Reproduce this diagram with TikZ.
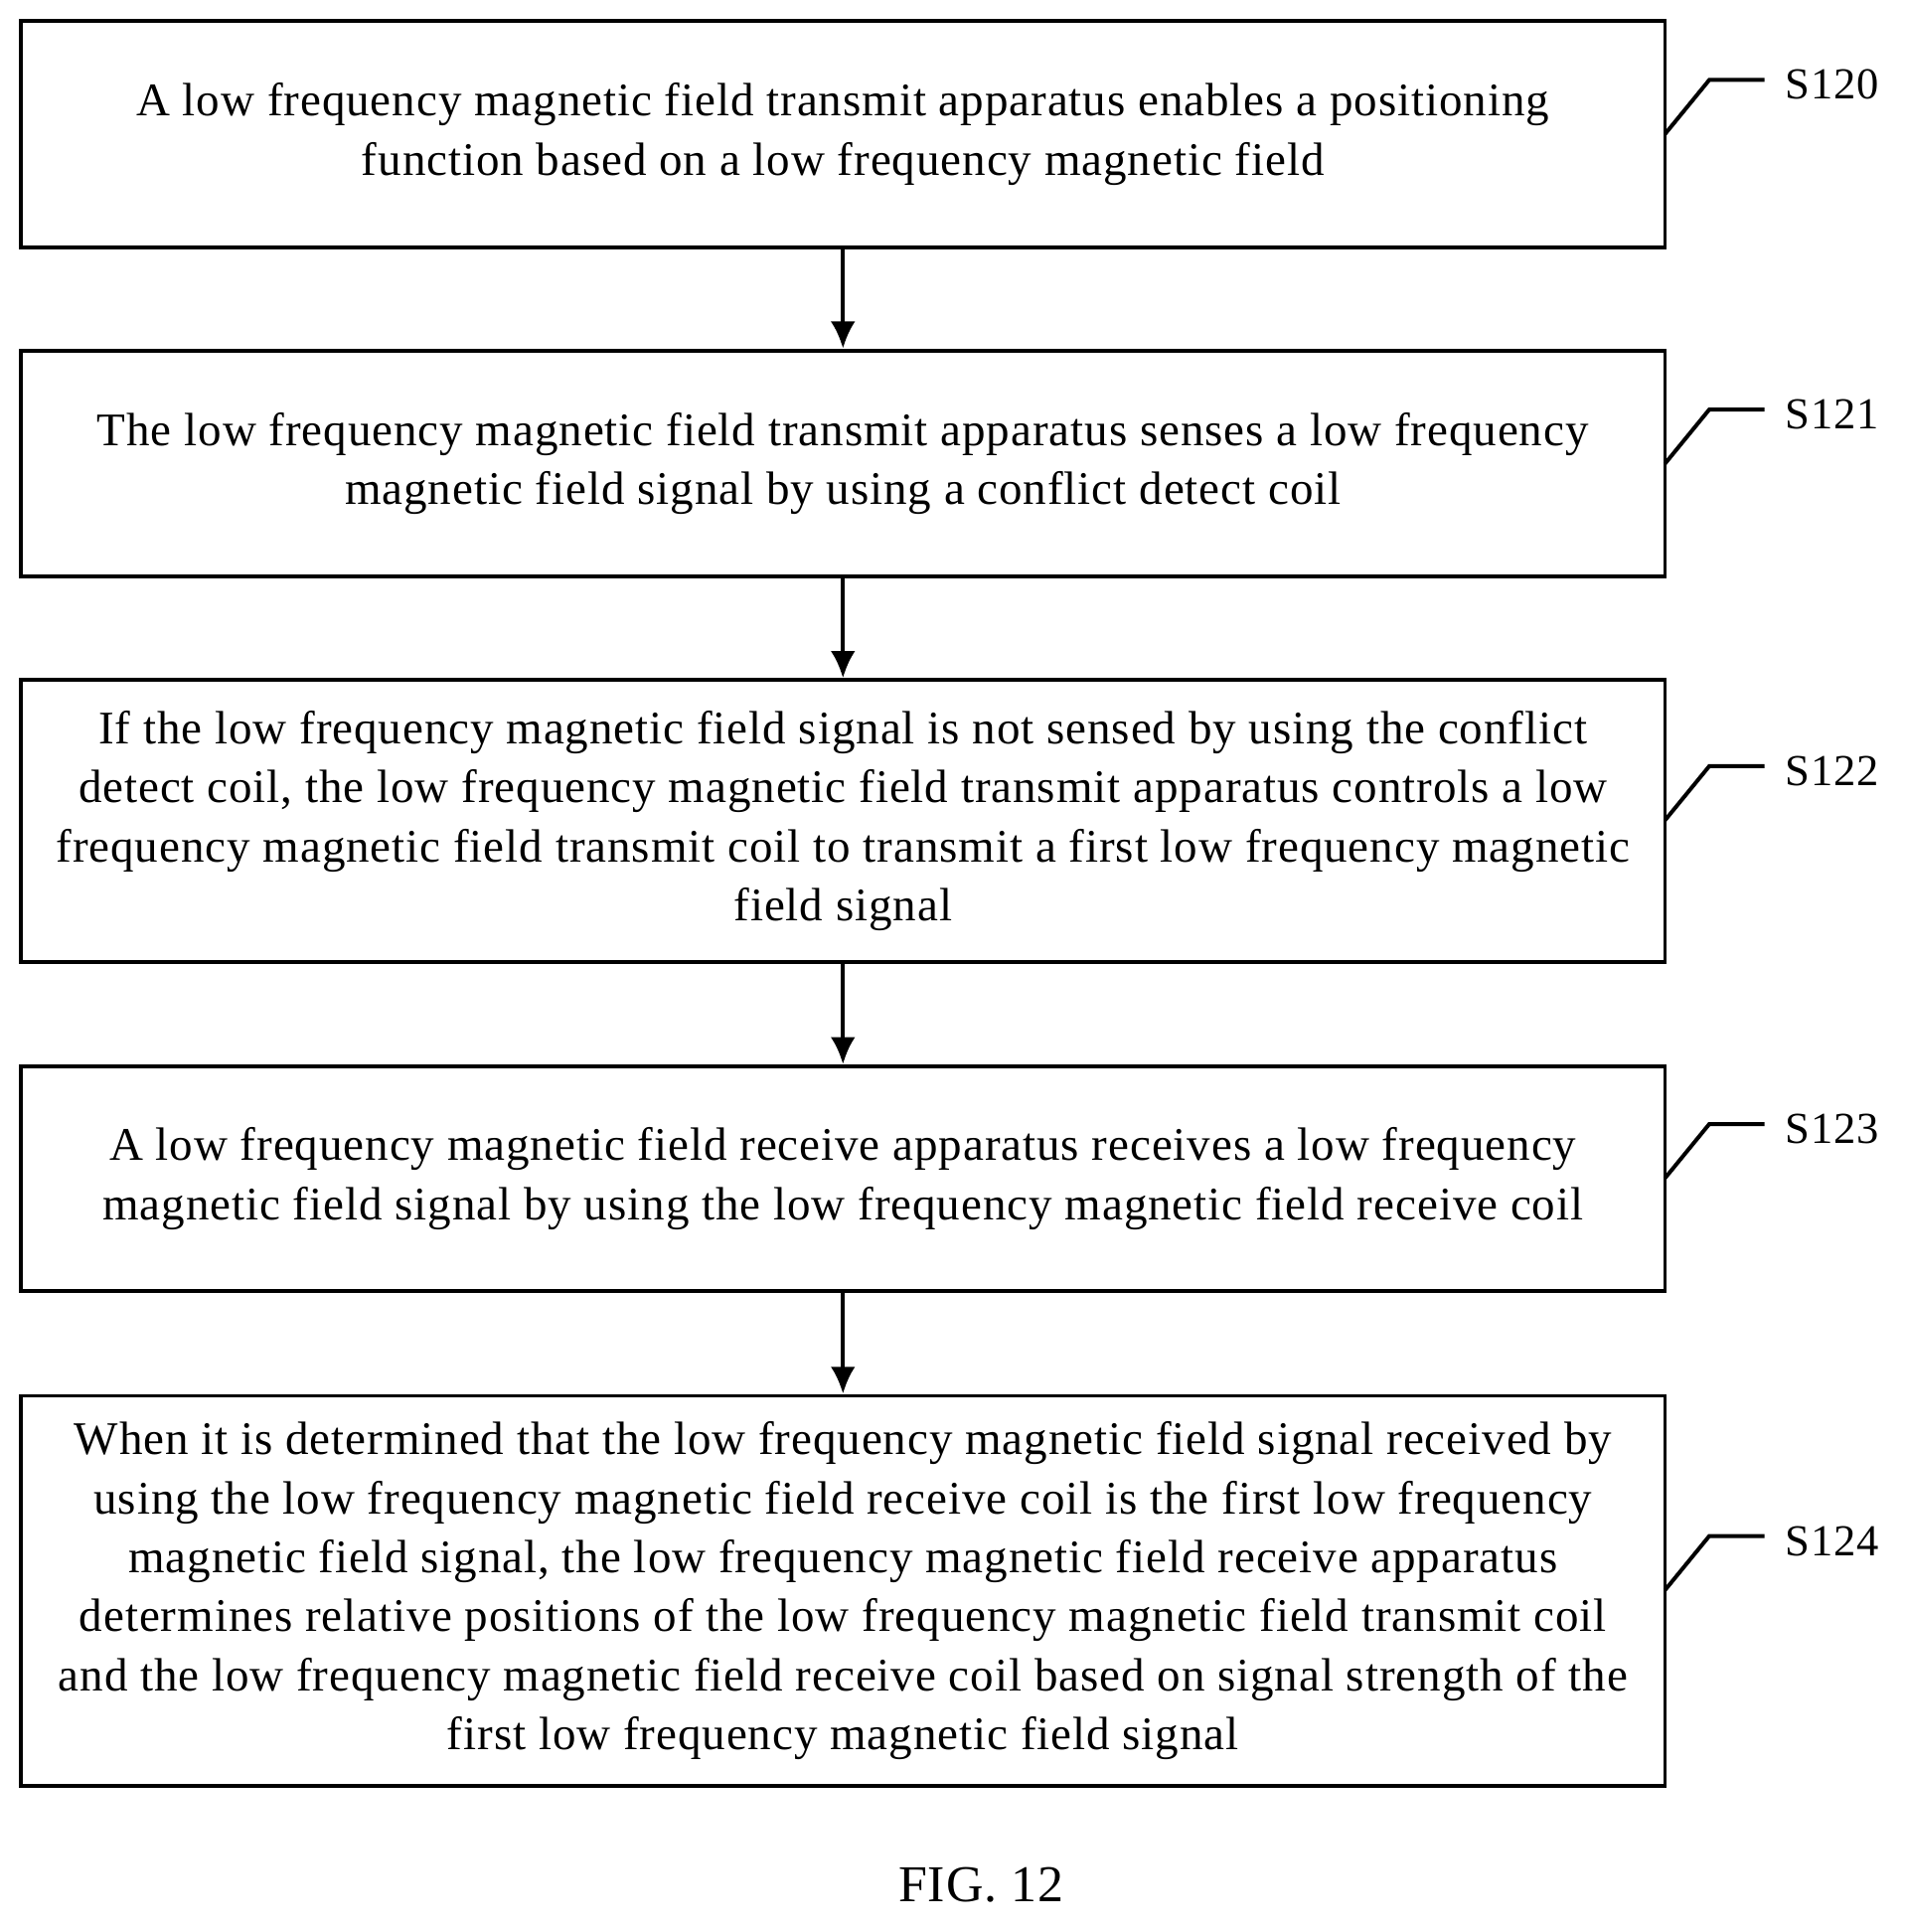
\documentclass[tikz,border=0pt]{standalone}
\usepackage{fontspec}
\setmainfont{Liberation Serif}[LetterSpace=2]
\usepackage{tikz}
\usetikzlibrary{arrows.meta}

\begin{document}
\begin{tikzpicture}[x=0.5pt,y=-0.5pt,
    stepbox/.style={draw=black,line width=1.6pt,minimum width=668.5pt,align=center,
        font=\fontsize{19}{24}\selectfont},
    lbl/.style={font=\fontsize{18}{20}\selectfont,anchor=west}]
        \useasboundingbox (0,0) rectangle (1550,1571);
        \node[stepbox,minimum height=92pt] (S120) at (685.5,109) {A low frequency magnetic field transmit apparatus enables a positioning\\function based on a low frequency magnetic field};
        \node[stepbox,minimum height=92pt] (S121) at (685.5,377) {The low frequency magnetic field transmit apparatus senses a low frequency\\magnetic field signal by using a conflict detect coil};
        \node[stepbox,minimum height=114.5pt] (S122) at (685.5,667.5) {If the low frequency magnetic field signal is not sensed by using the conflict\\detect coil, the low frequency magnetic field transmit apparatus controls a low\\frequency magnetic field transmit coil to transmit a first low frequency magnetic\\field signal};
        \node[stepbox,minimum height=91.5pt] (S123) at (685.5,958.5) {A low frequency magnetic field receive apparatus receives a low frequency\\magnetic field signal by using the low frequency magnetic field receive coil};
        \node[stepbox,minimum height=158.5pt] (S124) at (685.5,1293.5) {When it is determined that the low frequency magnetic field signal received by\\using the low frequency magnetic field receive coil is the first low frequency\\magnetic field signal, the low frequency magnetic field receive apparatus\\determines relative positions of the low frequency magnetic field transmit coil\\and the low frequency magnetic field receive coil based on signal strength of the\\first low frequency magnetic field signal};
        \path [-{Latex[length=11pt,width=10pt]},line width=1.6pt] (S120) edge (S121);
        \path [-{Latex[length=11pt,width=10pt]},line width=1.6pt] (S121) edge (S122);
        \path [-{Latex[length=11pt,width=10pt]},line width=1.6pt] (S122) edge (S123);
        \path [-{Latex[length=11pt,width=10pt]},line width=1.6pt] (S123) edge (S124);
        \foreach \s/\y in {S120/109,S121/377,S122/667,S123/958,S124/1293} {
            \coordinate (\s a) at (1354,\y);
            \coordinate (\s b) at (1390,\y-44);
            \coordinate (\s c) at (1435,\y-44);
            \draw[line width=1.6pt] (\s a) -- (\s b) -- (\s c);
            \node[lbl] (\s t) at (1445,\y-40) {\s};
        }
        \node[font=\fontsize{21}{24}\selectfont] (fig) at (798,1533) {FIG. 12};
    \end{tikzpicture}
\end{document}
